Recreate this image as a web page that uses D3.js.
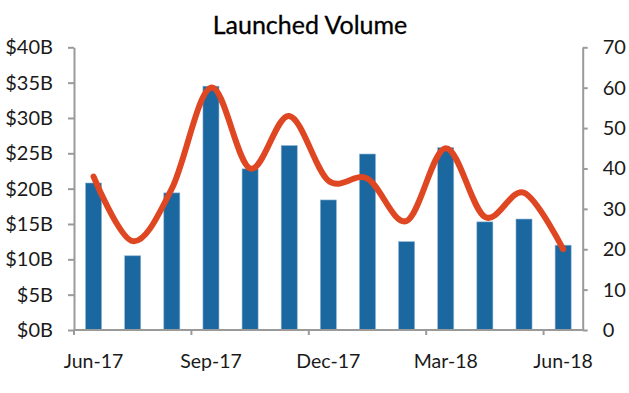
<!DOCTYPE html>
<html>
<head>
<meta charset="utf-8">
<script src="https://cdn.jsdelivr.net/npm/d3@7"></script>
<style>
  html, body { margin: 0; padding: 0; background: #fff; }
  svg { display: block; }
  text { font-family: Lato, "Noto Sans", sans-serif; }
</style>
</head>
<body>
<svg id="chart" width="629" height="393"></svg>
<script>
const months = ["Jun-17","Jul-17","Aug-17","Sep-17","Oct-17","Nov-17","Dec-17","Jan-18","Feb-18","Mar-18","Apr-18","May-18","Jun-18"];
const volumeB = [20.8, 10.5, 19.4, 34.5, 22.8, 26.1, 18.4, 24.9, 12.5, 25.8, 15.3, 15.7, 12.0];
const dealCount = [38, 22, 35, 60, 40, 53, 37, 37.5, 27, 45, 28, 34, 20];
const leftTicks = [0, 5, 10, 15, 20, 25, 30, 35, 40];
const rightTicks = [0, 10, 20, 30, 40, 50, 60, 70];
const xTickMonths = ["Jun-17", "Sep-17", "Dec-17", "Mar-18", "Jun-18"];
const chartTitle = "Launched Volume";

const svg = d3.select("#chart");
const mLeft = 74, mRight = 582.7, mTop = 47.3, mBottom = 330;
const axisColor = "#9a9a9a";
const textColor = "#1a1a1a";

const x = d3.scaleBand().domain(months).range([mLeft, mRight])
  .paddingInner(0.59).paddingOuter(0.295);
const step = x.step();
const yL = d3.scaleLinear().domain([0, 40]).range([mBottom, mTop]);
const yR = d3.scaleLinear().domain([0, 70]).range([mBottom, mTop]);

// title
svg.append("text").attr("x", 310).attr("y", 34).attr("text-anchor", "middle")
  .attr("font-size", 25).attr("fill", "#000").attr("stroke", "#000").attr("stroke-width", 0.3)
  .text(chartTitle);

// bars
svg.append("g").selectAll("rect").data(months).join("rect")
  .attr("x", d => x(d)).attr("width", x.bandwidth())
  .attr("y", (d, i) => yL(volumeB[i]))
  .attr("height", (d, i) => mBottom - yL(volumeB[i]))
  .attr("fill", "#1b679f").attr("stroke", "#8fb3d3").attr("stroke-width", 0.6);

// left axis
const gL = svg.append("g").attr("transform", `translate(${mLeft},0)`)
  .call(d3.axisLeft(yL).tickValues(leftTicks).tickFormat(d => "$" + d + "B")
    .tickSize(6).tickPadding(15).tickSizeOuter(0));
// right axis
const gR = svg.append("g").attr("transform", `translate(${mRight},0)`)
  .call(d3.axisRight(yR).tickValues(rightTicks).tickSize(5).tickPadding(15).tickSizeOuter(0));

[gL, gR].forEach(g => {
  g.select(".domain").attr("stroke", axisColor).attr("stroke-width", 2);
  g.selectAll(".tick line").attr("stroke", axisColor).attr("stroke-width", 2);
  g.selectAll(".tick text").attr("font-size", 20).attr("fill", textColor)
    .attr("font-family", "Lato, 'Noto Sans', sans-serif");
});

// bottom axis
const gB = svg.append("g");
gB.append("line").attr("x1", mLeft).attr("x2", mRight).attr("y1", mBottom).attr("y2", mBottom)
  .attr("stroke", axisColor).attr("stroke-width", 2);
gB.selectAll("line.tk").data(xTickMonths).join("line").attr("class", "tk")
  .attr("x1", d => x(d) - step * x.paddingOuter()).attr("x2", d => x(d) - step * x.paddingOuter())
  .attr("y1", mBottom).attr("y2", mBottom + 5)
  .attr("stroke", axisColor).attr("stroke-width", 2);
gB.selectAll("text").data(xTickMonths).join("text")
  .attr("x", d => x(d) + x.bandwidth() / 2).attr("y", 368)
  .attr("text-anchor", "middle").attr("font-size", 19.5).attr("fill", textColor)
  .text(d => d);

// line
const line = d3.line()
  .x((d, i) => x(months[i]) + x.bandwidth() / 2)
  .y(d => yR(d))
  .curve(d3.curveCardinal.tension(0));
svg.append("path").datum(dealCount).attr("d", line)
  .attr("fill", "none").attr("stroke", "#df4622").attr("stroke-width", 6)
  .attr("stroke-linecap", "round").attr("stroke-linejoin", "round");
</script>
</body>
</html>
